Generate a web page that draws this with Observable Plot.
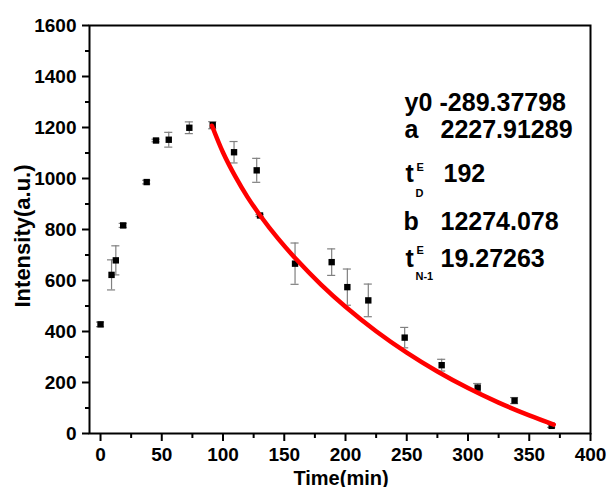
<!DOCTYPE html>
<html><head><meta charset="utf-8">
<script src="https://cdn.jsdelivr.net/npm/d3@7"></script>
<script src="https://cdn.jsdelivr.net/npm/@observablehq/plot@0.6"></script>
<style>body{margin:0;background:#fff}</style>
</head><body><div id="chart"></div>
<script>
// Measured points (Time in min, Intensity in a.u., error half-width)
const time      = [0, 9, 12.5, 18.5, 37.7, 45.3, 55.7, 72.5, 91.6, 109, 127.5, 130.2, 158.8, 188.7, 201.5, 218.6, 248.3, 278.5, 307.9, 338, 368.3];
const intensity = [428, 622, 679, 816, 986, 1149, 1152, 1199, 1209, 1103, 1032, 855, 666, 672, 574, 522, 376, 268, 180, 129, 30];
const errors    = [9, 59, 57, 8, 7, 5, 29, 23, 14, 42, 47, 4, 81, 52, 71, 64, 40, 23, 16, 12, 6];
// Fitted curve values
const fitTime      = [91, 100, 110, 120, 130, 145, 160, 180, 200, 225, 250, 275, 300, 325, 350, 370];
const fitIntensity = [1207, 1102, 1008, 927, 857, 764, 682, 584, 497, 401, 317, 243, 178, 121, 71, 35];
// Ticks
const xTicks = [0, 50, 100, 150, 200, 250, 300, 350, 400];
const xMinor = [25, 75, 125, 175, 225, 275, 325, 375];
const yTicks = [0, 200, 400, 600, 800, 1000, 1200, 1400, 1600];
const yMinor = [100, 300, 500, 700, 900, 1100, 1300, 1500];
// Fit parameters
const paramNames  = ["y0", "a", "b"];
const paramValues = ["-289.37798", "2227.91289", "12274.078"];
const tValues = ["192", "19.27263"];
const tSubs = ["D", "N-1"];

const points = time.map((t, i) => ({t, v: intensity[i], e: errors[i]}));
const fit = fitTime.map((t, i) => ({t, v: fitIntensity[i]}));

const L = 89, T = 25;
const rowTop = [92.7, 120, 164, 211.7, 248.3];
const txt = (s, x, y, size, extra = {}) => Plot.text([s], {
  frameAnchor: "top-left", textAnchor: "start", lineAnchor: "top",
  dx: x - L, dy: y - T, fontSize: size, fontWeight: "bold", fill: "black", ...extra
});
const fmt = d => String(d);

const chart = Plot.plot({
  width: 610, height: 487,
  marginLeft: L, marginRight: 20, marginTop: T, marginBottom: 54,
  style: {fontFamily: "'Liberation Sans', Arial, sans-serif", fontWeight: "bold", background: "white", color: "black", overflow: "visible"},
  x: {domain: [-9, 400]},
  y: {domain: [0, 1600]},
  marks: [
    Plot.axisX({ticks: xTicks, tickSize: 8, tickPadding: 6, strokeWidth: 2, fontSize: 19, tickFormat: fmt, label: null}),
    Plot.axisX({ticks: xMinor, tickSize: 5, strokeWidth: 2, tickFormat: () => "", label: null}),
    Plot.axisY({ticks: yTicks, tickSize: 7, tickPadding: 6, strokeWidth: 2, fontSize: 19, tickFormat: fmt, label: null}),
    Plot.axisY({ticks: yMinor, tickSize: 4, strokeWidth: 2, tickFormat: () => "", label: null}),
    Plot.frame({stroke: "black", strokeWidth: 2}),
    Plot.ruleX(points, {x: "t", y1: d => d.v - d.e, y2: d => d.v + d.e, stroke: "#808080", strokeWidth: 1.2}),
    Plot.ruleY(points, {y: d => d.v - d.e, x1: d => d.t - 3.3, x2: d => d.t + 3.3, stroke: "#808080", strokeWidth: 1.2}),
    Plot.ruleY(points, {y: d => d.v + d.e, x1: d => d.t - 3.3, x2: d => d.t + 3.3, stroke: "#808080", strokeWidth: 1.2}),
    Plot.dot(points, {x: "t", y: "v", symbol: "square", r: 3.6, fill: "black"}),
    Plot.line(fit, {x: "t", y: "v", stroke: "#ff0000", strokeWidth: 4.5, curve: "catmull-rom"}),
    Plot.text(["Intensity(a.u.)"], {frameAnchor: "left", textAnchor: "middle", rotate: -90, dx: -67, dy: 6.5, fontSize: 22, fontWeight: "bold", fill: "black"}),
    Plot.text(["Time(min)"], {frameAnchor: "bottom", textAnchor: "middle", lineAnchor: "top", dx: 1, dy: 37, fontSize: 20, fontWeight: "bold", fill: "black"}),
    // parameter block
    txt(paramNames[0], 404, rowTop[0], 25), txt(paramValues[0], 439, rowTop[0], 25),
    txt(paramNames[1], 404, rowTop[1], 25), txt(paramValues[1], 440, rowTop[1], 25),
    txt("t", 405, rowTop[2], 25), txt("E", 416, 163, 11), txt(tSubs[0], 415, 189, 11), txt(tValues[0], 443, rowTop[2], 25),
    txt(paramNames[2], 403, rowTop[3], 25), txt(paramValues[2], 440, rowTop[3], 25),
    txt("t", 405, rowTop[4], 25), txt("E", 416, 246, 11), txt(tSubs[1], 415, 272, 11), txt(tValues[1], 440, rowTop[4], 25)
  ]
});
document.getElementById("chart").appendChild(chart);
</script>
</body></html>
